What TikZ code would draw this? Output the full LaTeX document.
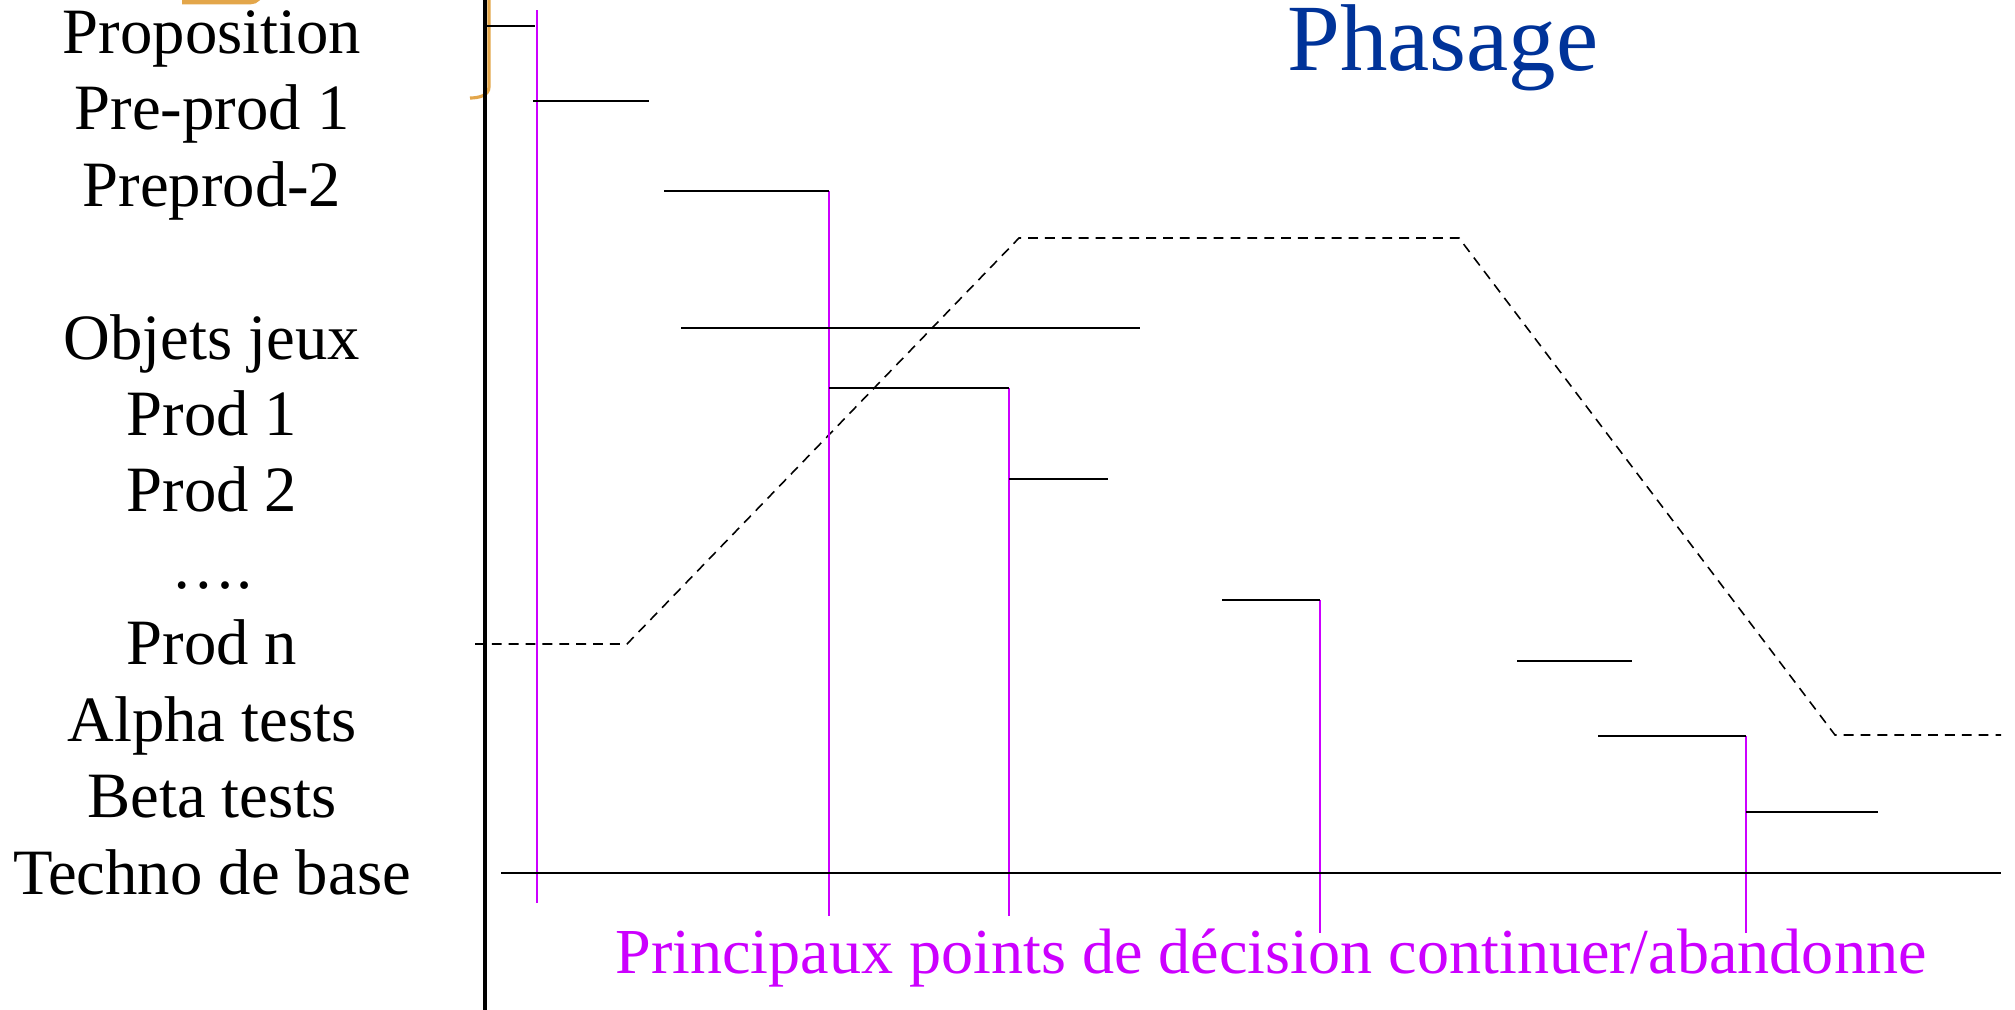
\documentclass[tikz,border=0pt]{standalone}
\usepackage{fontspec}
\setmainfont{Liberation Serif}
\usepackage{xcolor}
\usepackage{tikz}
\definecolor{phasebleu}{RGB}{0,51,153}
\definecolor{decisionmag}{RGB}{204,0,255}
\definecolor{accolade}{RGB}{227,166,74}
\tikzset{tache/.style={line width=0.65pt},
  decision/.style={decisionmag, line width=0.65pt},
  charge/.style={line width=0.45pt, dash pattern=on 2.8pt off 2pt},
  etiquette/.style={anchor=base, inner sep=0pt, font=\fontsize{18.4}{22}\selectfont}}

\begin{document}
\begin{tikzpicture}
    \clip (0, 0) rectangle (20.15, 10.09);
    \fill[white] (0, 0) rectangle (20.15, 10.09);

    \coordinate (AxH) at (4.85, 10.2);
    \coordinate (AxB) at (4.85, -0.1);
    \coordinate (P1) at (4.85, 9.83);
    \coordinate (P2) at (5.35, 9.83);
    \coordinate (Q1) at (5.33, 9.08);
    \coordinate (Q2) at (6.49, 9.08);
    \coordinate (R1) at (6.64, 8.18);
    \coordinate (R2) at (8.29, 8.18);
    \coordinate (O1) at (6.81, 6.81);
    \coordinate (O2) at (11.40, 6.81);
    \coordinate (S1) at (8.29, 6.21);
    \coordinate (S2) at (10.09, 6.21);
    \coordinate (T1) at (10.09, 5.30);
    \coordinate (T2) at (11.08, 5.30);
    \coordinate (U1) at (12.22, 4.09);
    \coordinate (U2) at (13.20, 4.09);
    \coordinate (V1) at (15.17, 3.48);
    \coordinate (V2) at (16.32, 3.48);
    \coordinate (W1) at (15.98, 2.73);
    \coordinate (W2) at (17.46, 2.73);
    \coordinate (X1) at (17.46, 1.97);
    \coordinate (X2) at (18.78, 1.97);
    \coordinate (B1) at (5.01, 1.36);
    \coordinate (B2) at (20.01, 1.36);

    \coordinate (D1) at (5.37, 9.99);
    \coordinate (D1b) at (5.37, 1.06);
    \coordinate (D2b) at (8.29, 0.93);
    \coordinate (D3b) at (10.09, 0.93);
    \coordinate (D4b) at (13.20, 0.76);
    \coordinate (D5b) at (17.46, 0.76);

    \coordinate (C1) at (4.75, 3.65);
    \coordinate (C2) at (6.27, 3.65);
    \coordinate (C3) at (10.19, 7.71);
    \coordinate (C4) at (14.59, 7.71);
    \coordinate (C5) at (18.35, 2.74);
    \coordinate (C6) at (20.01, 2.74);

    % accolades orange
    \draw[accolade, line width=1.4pt] (1.82, 10.07) -- (2.50, 10.07)
        to[out=0, in=-90] (2.62, 10.2);
    \draw[accolade, line width=0.9pt] (4.89, 10.2) -- (4.89, 9.22)
        to[out=-90, in=0] (4.70, 9.11);

    \draw[line width=1.4pt] (AxH) -- (AxB);

    \draw[charge] (C1) -- (C2) -- (C3) -- (C4) -- (C5) -- (C6);

    \draw[decision] (D1) -- (D1b);
    \draw[decision] (R2) -- (D2b);
    \draw[decision] (S2) -- (D3b);
    \draw[decision] (U2) -- (D4b);
    \draw[decision] (W2) -- (D5b);

    \draw[tache] (P1) -- (P2);
    \draw[tache] (Q1) -- (Q2);
    \draw[tache] (R1) -- (R2);
    \draw[tache] (O1) -- (O2);
    \draw[tache] (S1) -- (S2);
    \draw[tache] (T1) -- (T2);
    \draw[tache] (U1) -- (U2);
    \draw[tache] (V1) -- (V2);
    \draw[tache] (W1) -- (W2);
    \draw[tache] (X1) -- (X2);
    \draw[tache] (B1) -- (B2);

    \node[etiquette] (proposition) at (2.12, 9.56) {Proposition};
    \node[etiquette] (preprodA) at (2.12, 8.80) {Pre-prod 1};
    \node[etiquette] (preprodB) at (2.12, 8.03) {Preprod-2};
    \node[etiquette] (objets) at (2.12, 6.50) {Objets jeux};
    \node[etiquette] (prodA) at (2.12, 5.74) {Prod 1};
    \node[etiquette] (prodB) at (2.12, 4.98) {Prod 2};
    \node[etiquette] (points) at (2.12, 4.21) {….};
    \node[etiquette] (prodN) at (2.12, 3.45) {Prod n};
    \node[etiquette] (alpha) at (2.12, 2.68) {Alpha tests};
    \node[etiquette] (beta) at (2.12, 1.92) {Beta tests};
    \node[etiquette] (techno) at (2.12, 1.15) {Techno de base};

    \node[anchor=base, inner sep=0pt, phasebleu, font=\fontsize{27}{32}\selectfont]
        (titre) at (14.43, 9.39) {Phasage};
    \node[etiquette, decisionmag, font=\fontsize{18.25}{22}\selectfont] (legende) at (12.71, 0.36)
        {Principaux points de décision continuer/abandonne};
\end{tikzpicture}
\end{document}
